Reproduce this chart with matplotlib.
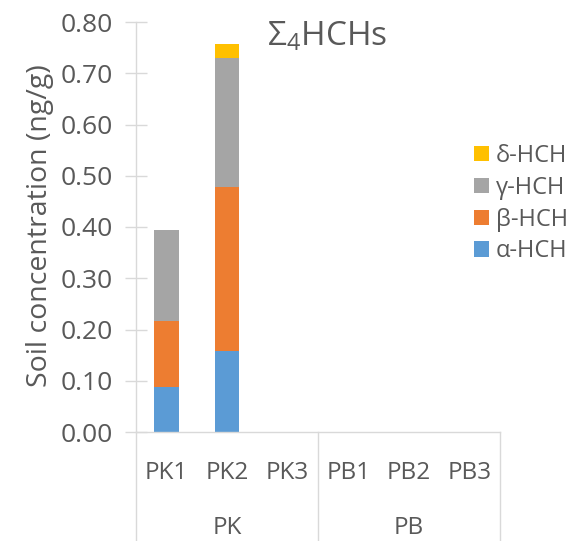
import matplotlib
matplotlib.use('Agg')
import matplotlib.pyplot as plt
import numpy as np
from matplotlib.transforms import blended_transform_factory

categories = ['PK1', 'PK2', 'PK3', 'PB1', 'PB2', 'PB3']
groups = ['PK', 'PB']
alpha_hch = [0.087, 0.159, 0, 0, 0, 0]
beta_hch = [0.130, 0.319, 0, 0, 0, 0]
gamma_hch = [0.177, 0.252, 0, 0, 0, 0]
delta_hch = [0.0, 0.028, 0, 0, 0, 0]
series_names = ['α-HCH', 'β-HCH', 'γ-HCH', 'δ-HCH']
colors = ['#5B9BD5', '#ED7D31', '#A5A5A5', '#FFC000']
yticks = [0.0, 0.1, 0.2, 0.3, 0.4, 0.5, 0.6, 0.7, 0.8]

plt.rcParams['font.family'] = ['Open Sans', 'DejaVu Sans']
plt.rcParams['mathtext.default'] = 'regular'
txt = '#595959'
grid = '#D9D9D9'

fig = plt.figure(figsize=(5.82, 5.41), dpi=100)
ax = fig.add_axes([136/582, 1-432/541, 364/582, 410/541])
x = np.arange(len(categories))
bottom = np.zeros(len(categories))
handles = []
for vals, name, c in zip([alpha_hch, beta_hch, gamma_hch, delta_hch], series_names, colors):
    vals = np.array(vals)
    h = ax.bar(x, vals, 0.41, bottom=bottom, color=c, label=name)
    handles.append(h)
    bottom += vals

ax.set_xlim(-0.5, 5.5)
ax.set_ylim(0, 0.8)
for s in ['top', 'right']:
    ax.spines[s].set_visible(False)
for s in ['left', 'bottom']:
    ax.spines[s].set_color(grid)
    ax.spines[s].set_linewidth(1)

ax.set_yticks(yticks, labels=[f'{v:.2f}' for v in yticks])
ax.tick_params(axis='y', direction='inout', length=16, width=1, color=grid,
               labelsize=19, labelcolor=txt, pad=9)
ax.set_xticks(x, labels=categories)
ax.tick_params(axis='x', length=0, labelsize=17.5, labelcolor=txt, pad=21)

trans = blended_transform_factory(ax.transData, ax.transAxes)
for xs in [-0.5, 2.5, 5.5]:
    ax.plot([xs, xs], [0, -0.27], transform=trans, color=grid, lw=1, clip_on=False)
for gi, g in enumerate(groups):
    ax.text(gi*3 + 1, -0.234, g, transform=trans, ha='center', va='center',
            fontsize=17.5, color=txt)

fig.text(40/582, 1-226/541, 'Soil concentration (ng/g)', rotation=90,
         ha='center', va='center', fontsize=20.5, color=txt)
fig.text(327/582, 1-37/541, 'Σ$_4$HCHs', ha='center', va='center',
         fontsize=24, color=txt)

leg = fig.legend(handles[::-1], series_names[::-1], loc='upper left',
                 bbox_to_anchor=(474/582, 1-144/541), frameon=False,
                 fontsize=17, handlelength=0.62, handleheight=0.62,
                 handletextpad=0.3, labelspacing=0.33, borderpad=0,
                 borderaxespad=0)
for t in leg.get_texts():
    t.set_color(txt)

fig.savefig('out.png', dpi=100)
